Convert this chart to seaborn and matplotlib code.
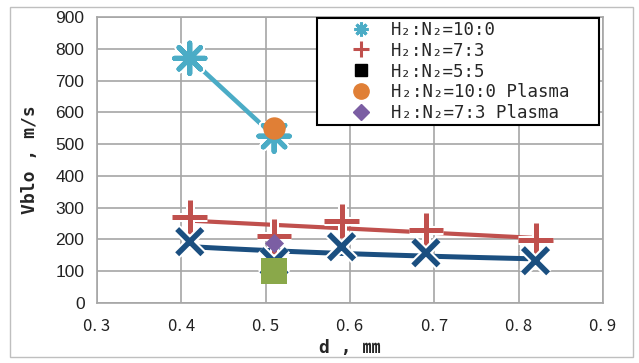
import numpy as np
import pandas as pd
import matplotlib
matplotlib.use("Agg")
import matplotlib.pyplot as plt
import matplotlib.patheffects as pe
from matplotlib.lines import Line2D
from matplotlib.legend_handler import HandlerLine2D
from matplotlib.patches import Rectangle
import seaborn as sns

# Nozzle diameter d (mm) vs. blow-off velocity (m/s)
d_10_0 = [0.41, 0.51]
v_10_0 = [770, 525]
d_7_3 = [0.41, 0.51, 0.59, 0.69, 0.82]
v_7_3 = [271, 210, 258, 230, 198]
d_5_5 = [0.41, 0.51, 0.59, 0.69, 0.82]
v_5_5 = [193, 130, 177, 158, 133]
d_pl_10_0 = [0.51]
v_pl_10_0 = [550]
d_pl_7_3 = [0.51]
v_pl_7_3 = [190]
d_pl_5_5 = [0.51]
v_pl_5_5 = [101]

labels = ["H\u2082:N\u2082=10:0", "H\u2082:N\u2082=7:3", "H\u2082:N\u2082=5:5",
          "H\u2082:N\u2082=10:0 Plasma", "H\u2082:N\u2082=7:3 Plasma"]
x_ticks = [0.3, 0.4, 0.5, 0.6, 0.7, 0.8, 0.9]
x_ticklabels = ["0. 3", "0. 4", "0. 5", "0. 6", "0. 7", "0. 8", "0. 9"]
y_ticks = [0, 100, 200, 300, 400, 500, 600, 700, 800, 900]

C_CYAN = "#4BACC6"
C_RED = "#C0504D"
C_BLUE = "#1B4F80"
C_ORANGE = "#E07F36"
C_PURPLE = "#7B5EA3"
C_GREEN = "#8AA84A"

MONO = ["DejaVu Sans Mono", "Noto Sans CJK JP"]

sns.set_style("white")
plt.rcParams["font.family"] = ["Noto Sans CJK JP", "DejaVu Sans"]

fig = plt.figure(figsize=(6.39, 3.63), dpi=100)
ax = fig.add_axes([97 / 639, 1 - 303 / 363, 506 / 639, 286 / 363])

# Outer chart frame
fig.patches.append(Rectangle((10 / 639, 6 / 363), 623 / 639, 350 / 363,
                             transform=fig.transFigure, fill=False,
                             edgecolor="#BFBFBF", linewidth=1.0))


def halo(w):
    return [pe.Stroke(linewidth=w, foreground="white"), pe.Normal()]


# Trend lines
cyan_df = pd.DataFrame({"d": d_10_0, "v": v_10_0})
sns.lineplot(data=cyan_df, x="d", y="v", color=C_CYAN, linewidth=3.3, ax=ax,
             zorder=3)

k_red, b_red = np.polyfit(d_7_3, v_7_3, 1)
xr = np.linspace(min(d_7_3), max(d_7_3) + 0.015, 50)
sns.lineplot(x=xr, y=k_red * xr + b_red, color=C_RED, linewidth=3.0, ax=ax,
             zorder=3)

p_blue, lna_blue = np.polyfit(np.log(d_5_5), np.log(v_5_5), 1)
xb = np.linspace(min(d_5_5), max(d_5_5), 50)
sns.lineplot(x=xb, y=np.exp(lna_blue) * xb ** p_blue, color=C_BLUE,
             linewidth=3.6, ax=ax, zorder=3)

# Markers
star = (8, 2, 0)
sns.scatterplot(x=d_10_0, y=v_10_0, marker=star, s=480, color=C_CYAN,
                linewidth=3.6, ax=ax, zorder=4, path_effects=halo(6.5))
sns.scatterplot(x=d_7_3, y=v_7_3, marker="+", s=620, color=C_RED,
                linewidth=3.6, ax=ax, zorder=4, path_effects=halo(6.5))
sns.scatterplot(x=d_5_5, y=v_5_5, marker="x", s=330, color=C_BLUE,
                linewidth=4.0, ax=ax, zorder=4, path_effects=halo(7))
sns.scatterplot(x=d_pl_10_0, y=v_pl_10_0, marker="o", s=260, color=C_ORANGE,
                linewidth=0, ax=ax, zorder=5)
sns.scatterplot(x=d_pl_7_3, y=v_pl_7_3, marker="D", s=95, color=C_PURPLE,
                linewidth=0, ax=ax, zorder=5)
sns.scatterplot(x=d_pl_5_5, y=v_pl_5_5, marker="s", s=330, color=C_GREEN,
                linewidth=0, ax=ax, zorder=5)

# Axes styling
ax.set_xlim(0.3, 0.9)
ax.set_ylim(0, 900)
ax.set_xticks(x_ticks)
ax.set_xticklabels(x_ticklabels, fontsize=12, color="#222222")
ax.set_yticks(y_ticks)
ax.set_yticklabels([str(v) for v in y_ticks], fontsize=12.5, color="#222222",
                   family=["Liberation Sans Narrow", "Liberation Sans"])
ax.grid(True, color="#A6A6A6", linewidth=1.2)
ax.set_axisbelow(True)
for s in ax.spines.values():
    s.set_color("#A6A6A6")
    s.set_linewidth(1.2)
ax.tick_params(axis="both", direction="out", length=5, width=1.2,
               color="#A6A6A6", pad=4)
ax.tick_params(axis="x", pad=6)

ax.set_xlabel("d , \u339c", fontsize=13, fontweight="bold", labelpad=3,
              family=MONO)
ax.set_ylabel("Vblo , m/s", fontsize=13, fontweight="bold", labelpad=12,
              family=MONO)

# Legend
handles = [
    Line2D([], [], ls="none", marker=star, ms=10, mew=2.2, color=C_CYAN),
    Line2D([], [], ls="none", marker="+", ms=12, mew=2.2, color=C_RED),
    Line2D([], [], ls="none", marker="s", ms=9, mec="black", mfc="black"),
    Line2D([], [], ls="none", marker="o", ms=11, color=C_ORANGE),
    Line2D([], [], ls="none", marker="D", ms=8, color=C_PURPLE),
]
leg = ax.legend(
    handles, labels, loc="upper left",
    bbox_to_anchor=(317 / 639, 1 - 123 / 363, 282 / 639, 105 / 363),
    bbox_transform=fig.transFigure, mode="expand",
    frameon=True, fancybox=False, framealpha=1, edgecolor="black",
    prop={"family": MONO, "size": 12.5}, handlelength=3.0,
    handletextpad=1.12, borderpad=0.15, labelspacing=0.17, borderaxespad=0,
    handler_map={Line2D: HandlerLine2D(xpad=1.8)})
leg.get_frame().set_linewidth(1.5)
leg.set_zorder(10)

fig.savefig("out.png", dpi=100)
